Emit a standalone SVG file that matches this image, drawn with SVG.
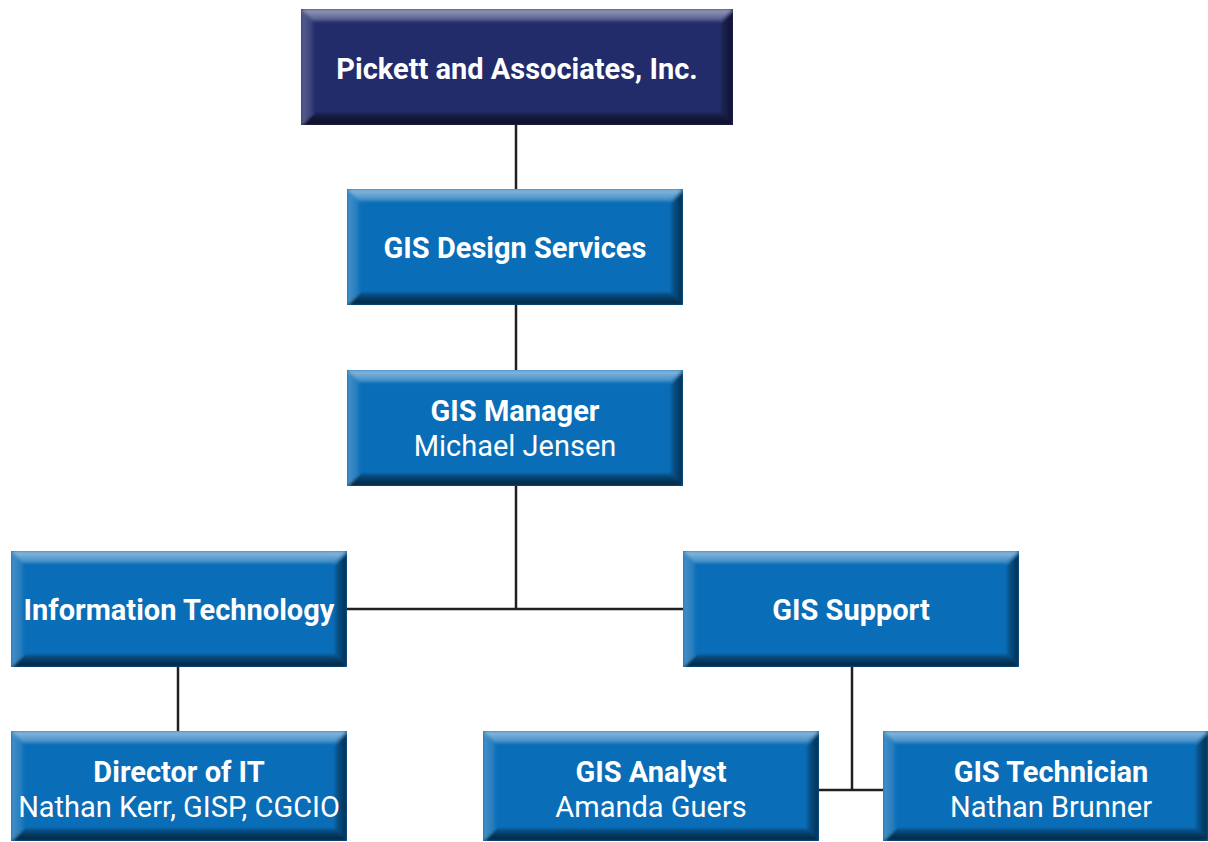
<svg xmlns="http://www.w3.org/2000/svg" width="1208" height="842" viewBox="0 0 1208 842">
<style>
.t{font-family:Roboto,"Liberation Sans",sans-serif;font-size:29px;fill:#fff;text-anchor:middle}
.b{font-weight:bold}
.conn{stroke:#231f20;stroke-width:2.5;fill:none}
.blue{fill:#0a6db7}
.navy{fill:#232c6b}
.tp{fill:url(#topG)}
.bt{fill:url(#botG)}
.lf{fill:url(#leftG)}
.rt{fill:url(#rightG)}
.bev{filter:url(#soft)}
</style>
<defs>
<filter id="soft" x="0" y="0" width="1" height="1">
<feGaussianBlur stdDeviation="1.5"/>
</filter>
<linearGradient id="topG" x1="0" y1="0" x2="0" y2="1">
<stop offset="0" stop-color="#fff" stop-opacity="0.55"/>
<stop offset="1" stop-color="#fff" stop-opacity="0.2"/>
</linearGradient>
<linearGradient id="botG" x1="0" y1="0" x2="0" y2="1">
<stop offset="0" stop-color="#000" stop-opacity="0.25"/>
<stop offset="1" stop-color="#000" stop-opacity="0.7"/>
</linearGradient>
<linearGradient id="leftG" x1="0" y1="0" x2="1" y2="0">
<stop offset="0" stop-color="#fff" stop-opacity="0.25"/>
<stop offset="1" stop-color="#fff" stop-opacity="0.08"/>
</linearGradient>
<linearGradient id="rightG" x1="0" y1="0" x2="1" y2="0">
<stop offset="0" stop-color="#000" stop-opacity="0.15"/>
<stop offset="1" stop-color="#000" stop-opacity="0.6"/>
</linearGradient>
</defs>
<g id="connectors">
<line class="conn" x1="516" y1="125" x2="516" y2="189"/>
<line class="conn" x1="516" y1="305" x2="516" y2="370"/>
<line class="conn" x1="516" y1="486" x2="516" y2="609"/>
<line class="conn" x1="347" y1="609" x2="683" y2="609"/>
<line class="conn" x1="178" y1="667" x2="178" y2="731"/>
<line class="conn" x1="852" y1="667" x2="852" y2="790"/>
<line class="conn" x1="819" y1="790" x2="883" y2="790"/>
</g>
<g id="pickett" transform="translate(301,9)">
<rect class="navy" width="432" height="116"/>
<g class="bev">
<polygon class="tp" points="0,0 432,0 420,12 12,12"/>
<polygon class="bt" points="0,116 432,116 420,104 12,104"/>
<polygon class="lf" points="0,0 12,12 12,104 0,116"/>
<polygon class="rt" points="420,12 432,0 432,116 420,104"/>
</g>
<text class="t b" x="216" y="70">Pickett and Associates, Inc.</text>
</g>
<g id="gis-design" transform="translate(347,189)">
<rect class="blue" width="336" height="116"/>
<g class="bev">
<polygon class="tp" points="0,0 336,0 324,12 12,12"/>
<polygon class="bt" points="0,116 336,116 324,104 12,104"/>
<polygon class="lf" points="0,0 12,12 12,104 0,116"/>
<polygon class="rt" points="324,12 336,0 336,116 324,104"/>
</g>
<text class="t b" x="168" y="69">GIS Design Services</text>
</g>
<g id="gis-manager" transform="translate(347,370)">
<rect class="blue" width="336" height="116"/>
<g class="bev">
<polygon class="tp" points="0,0 336,0 324,12 12,12"/>
<polygon class="bt" points="0,116 336,116 324,104 12,104"/>
<polygon class="lf" points="0,0 12,12 12,104 0,116"/>
<polygon class="rt" points="324,12 336,0 336,116 324,104"/>
</g>
<text class="t b" x="168" y="51">GIS Manager</text>
<text class="t" x="168" y="86">Michael Jensen</text>
</g>
<g id="info-tech" transform="translate(11,551)">
<rect class="blue" width="336" height="116"/>
<g class="bev">
<polygon class="tp" points="0,0 336,0 324,12 12,12"/>
<polygon class="bt" points="0,116 336,116 324,104 12,104"/>
<polygon class="lf" points="0,0 12,12 12,104 0,116"/>
<polygon class="rt" points="324,12 336,0 336,116 324,104"/>
</g>
<text class="t b" x="168" y="69">Information Technology</text>
</g>
<g id="gis-support" transform="translate(683,551)">
<rect class="blue" width="336" height="116"/>
<g class="bev">
<polygon class="tp" points="0,0 336,0 324,12 12,12"/>
<polygon class="bt" points="0,116 336,116 324,104 12,104"/>
<polygon class="lf" points="0,0 12,12 12,104 0,116"/>
<polygon class="rt" points="324,12 336,0 336,116 324,104"/>
</g>
<text class="t b" x="168" y="69">GIS Support</text>
</g>
<g id="director-it" transform="translate(11,731)">
<rect class="blue" width="336" height="110"/>
<g class="bev">
<polygon class="tp" points="0,0 336,0 324,12 12,12"/>
<polygon class="bt" points="0,110 336,110 324,98 12,98"/>
<polygon class="lf" points="0,0 12,12 12,98 0,110"/>
<polygon class="rt" points="324,12 336,0 336,110 324,98"/>
</g>
<text class="t b" x="168" y="51">Director of IT</text>
<text class="t" x="168" y="86">Nathan Kerr, GISP, CGCIO</text>
</g>
<g id="gis-analyst" transform="translate(483,731)">
<rect class="blue" width="336" height="110"/>
<g class="bev">
<polygon class="tp" points="0,0 336,0 324,12 12,12"/>
<polygon class="bt" points="0,110 336,110 324,98 12,98"/>
<polygon class="lf" points="0,0 12,12 12,98 0,110"/>
<polygon class="rt" points="324,12 336,0 336,110 324,98"/>
</g>
<text class="t b" x="168" y="51">GIS Analyst</text>
<text class="t" x="168" y="86">Amanda Guers</text>
</g>
<g id="gis-technician" transform="translate(883,731)">
<rect class="blue" width="325" height="110"/>
<g class="bev">
<polygon class="tp" points="0,0 325,0 313,12 12,12"/>
<polygon class="bt" points="0,110 325,110 313,98 12,98"/>
<polygon class="lf" points="0,0 12,12 12,98 0,110"/>
<polygon class="rt" points="313,12 325,0 325,110 313,98"/>
</g>
<text class="t b" x="168" y="51">GIS Technician</text>
<text class="t" x="168" y="86">Nathan Brunner</text>
</g>
</svg>
